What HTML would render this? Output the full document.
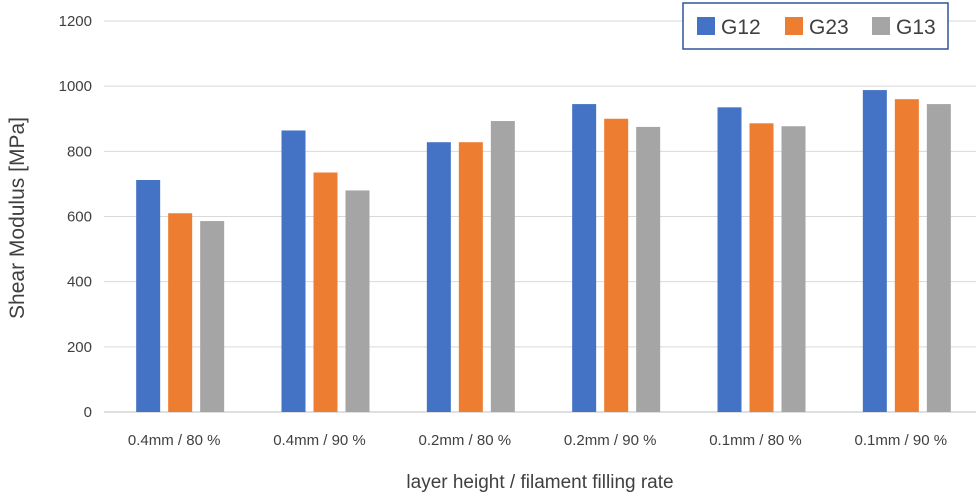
<!DOCTYPE html>
<html><head><meta charset="utf-8"><style>
html,body{margin:0;padding:0;background:#fff;}
svg{display:block;font-family:"Liberation Sans",sans-serif;}
</style></head><body>
<svg id="chart" width="978" height="498"></svg>
<script>
const categories=["0.4mm / 80 %","0.4mm / 90 %","0.2mm / 80 %","0.2mm / 90 %","0.1mm / 80 %","0.1mm / 90 %"];
const seriesNames=["G12","G23","G13"];
const g12=[712,864,828,945,935,988];
const g23=[610,735,828,900,886,960];
const g13=[586,680,893,875,877,945];
const yTicks=[0,200,400,600,800,1000,1200];
const colors=["#4472C4","#ED7D31","#A5A5A5"];
const series=[g12,g23,g13];
const NS="http://www.w3.org/2000/svg";
const svg=document.getElementById("chart");
const left=104,right=976,y0=412,yTop=21,yMax=1200;
const catW=(right-left)/categories.length;
function y(v){return y0-(v/yMax)*(y0-yTop);}
function xc(i){return left+3.5+catW*(i+0.5);}
function mk(tag,attrs,text){const e=document.createElementNS(NS,tag);for(const k in attrs)e.setAttribute(k,attrs[k]);if(text!==undefined)e.textContent=text;svg.appendChild(e);return e;}
yTicks.forEach(t=>{
  const l=mk("line",{x1:left,x2:right,y1:y(t),y2:y(t),stroke:t===0?"#BFBFBF":"#D9D9D9","stroke-width":1});
  
  
  const tx=mk("text",{x:92,y:y(t)+5,"text-anchor":"end","font-size":15,fill:"#404040"},t);
  
  
});
const bw=24,gap=8;
categories.forEach((c,i)=>{
  series.forEach((s,j)=>{
    const x=xc(i)-bw*1.5-gap+j*(bw+gap);
    const r=mk("rect",{x:x,y:y(s[i]),width:bw,height:y0-y(s[i]),fill:colors[j]});
    
    
  });
  const t=mk("text",{x:xc(i)-6,y:445,"text-anchor":"middle","font-size":15,fill:"#404040"},c);
  
  
});
const xt=mk("text",{x:540,y:488,"text-anchor":"middle","font-size":19,fill:"#404040"},"layer height / filament filling rate");


const yt=mk("text",{x:0,y:0,"text-anchor":"middle","font-size":21,fill:"#404040",transform:"translate(24,218) rotate(-90)"},"Shear Modulus [MPa]");


const lb=mk("rect",{x:683,y:3,width:265,height:46,fill:"#fff",stroke:"#2F5597","stroke-width":1.5});


const lx=[697,785,872];
seriesNames.forEach((n,j)=>{
  const s=mk("rect",{x:lx[j],y:17,width:18,height:18,fill:colors[j]});
  
  
  const t=mk("text",{x:lx[j]+24,y:34,"font-size":21,fill:"#404040"},n);
  
  
});
</script>
</body></html>
